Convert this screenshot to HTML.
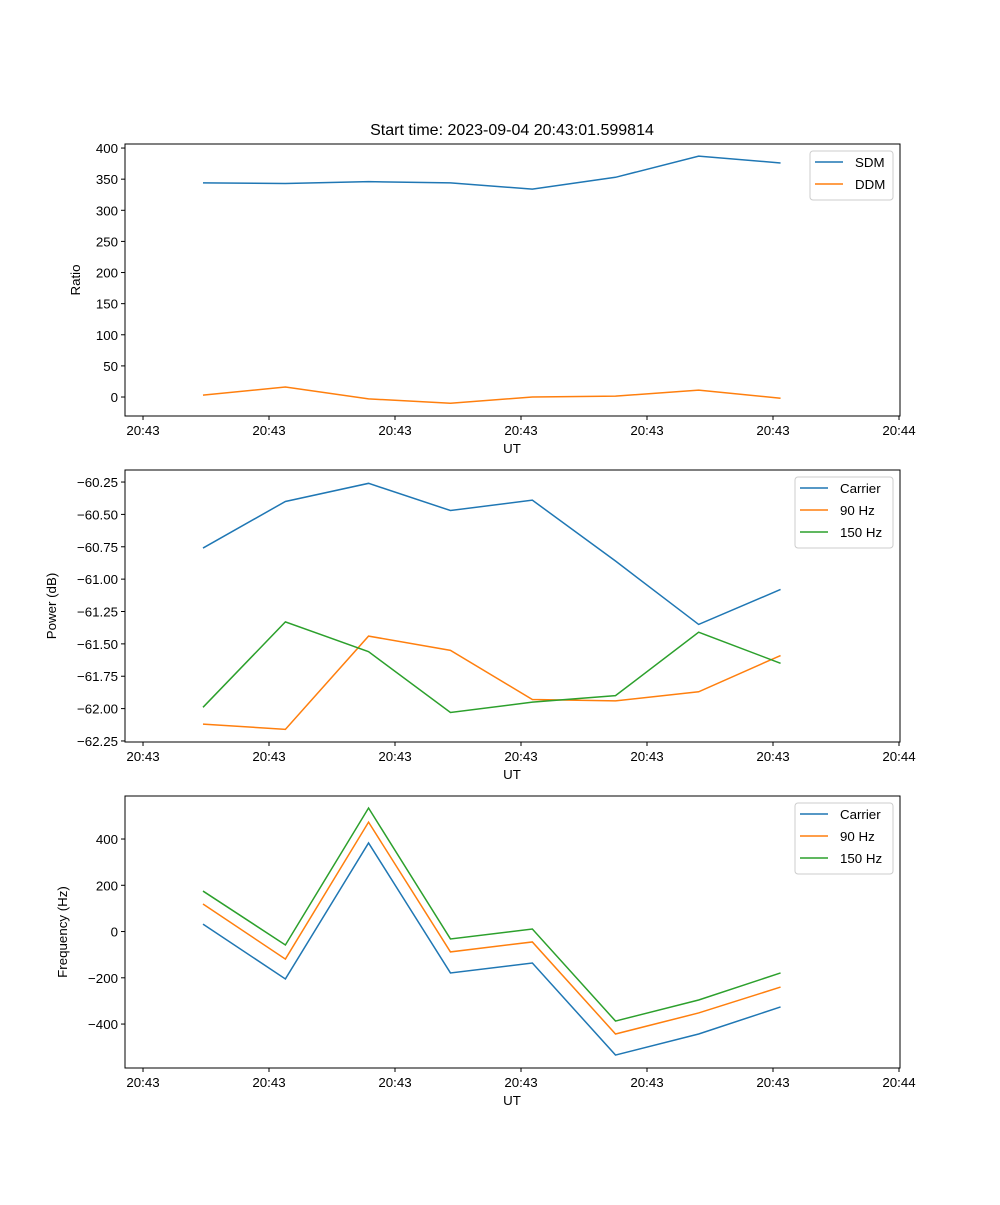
<!DOCTYPE html>
<html><head><meta charset="utf-8"><style>
body{margin:0;background:#fff}
svg{font-family:"Liberation Sans","DejaVu Sans",sans-serif;font-size:13.3px}
</style></head><body>
<svg id="fig" width="1000" height="1200" viewBox="0 0 1000 1200">
<text x="512" y="135" text-anchor="middle" font-size="16">Start time: 2023-09-04 20:43:01.599814</text>
</svg>
<script>
const times=[4.76,11.3,17.9,24.4,30.9,37.5,44.1,50.6];
const xTicks=[0,10,20,30,40,50,60];
const xTickLabels=["20:43","20:43","20:43","20:43","20:43","20:43","20:44"];
const sdm=[344,343,346,344,334,353,387,376];
const ddm=[3,16,-3,-10,0,1.5,11,-2];
const pCarrier=[-60.76,-60.40,-60.26,-60.47,-60.39,-60.86,-61.35,-61.08];
const p90=[-62.12,-62.16,-61.44,-61.55,-61.93,-61.94,-61.87,-61.59];
const p150=[-61.99,-61.33,-61.56,-62.03,-61.95,-61.90,-61.41,-61.65];
const fCarrier=[32,-205,383,-179,-136,-534,-443,-326];
const f90=[119,-119,473,-88,-45,-443,-352,-240];
const f150=[175,-58,534,-32,11,-387,-296,-179];
const ticks1=[0,50,100,150,200,250,300,350,400];
const ticks2=[-62.25,-62.0,-61.75,-61.5,-61.25,-61.0,-60.75,-60.5,-60.25];
const ticks3=[-400,-200,0,200,400];
const C=["#1f77b4","#ff7f0e","#2ca02c"];
const NS="http://www.w3.org/2000/svg";
const svg=document.getElementById('fig');
function mk(t,a,p){const e=document.createElementNS(NS,t);for(const k in a)e.setAttribute(k,a[k]);(p||svg).appendChild(e);return e;}
const L=125,R=900;
function xs(t){return L+(t+1.43)/(61.51)*(R-L);}
function panel(top,bot,ymin,ymax,yt,yfmt,ylabel,series,names,legend,key){
  const g=mk('g',{});
  
  
  const ys=v=>bot-(v-ymin)/(ymax-ymin)*(bot-top);
  series.forEach((s,i)=>{
    const pl=mk('polyline',{points:s.map((v,j)=>xs(times[j])+','+ys(v)).join(' '),fill:'none',stroke:C[i],'stroke-width':1.5},g);
    
    
  });
  const fr=mk('rect',{x:L,y:top,width:R-L,height:bot-top,fill:'none',stroke:'#000','stroke-width':1},g);
  
  
  xTicks.forEach((t,i)=>{const x=xs(t);mk('line',{x1:x,x2:x,y1:bot,y2:bot+4,stroke:'#000'},g);
    const tx=mk('text',{x:x,y:bot+19,'text-anchor':'middle'},g);tx.textContent=xTickLabels[i];
    
    });
  yt.forEach(v=>{const y=ys(v);mk('line',{x1:L-4,x2:L,y1:y,y2:y,stroke:'#000'},g);
    const tx=mk('text',{x:L-7,y:y+5,'text-anchor':'end'},g);tx.textContent=yfmt(v);
    
    });
  const xl=mk('text',{x:512,y:bot+37,'text-anchor':'middle'},g);xl.textContent='UT';
  
  
  const yl=mk('text',{x:0,y:0,'text-anchor':'middle',transform:`translate(${legend.yx},${(top+bot)/2}) rotate(-90)`},g);yl.textContent=ylabel;
  
  
  const lg=mk('g',{},g);
  
  
  mk('rect',{x:legend.x,y:top+7,width:893-legend.x,height:names.length*22+5,rx:3,fill:'#fff',stroke:'#ccc','fill-opacity':0.8},lg);
  names.forEach((n,i)=>{const y=top+18+i*22;
    mk('line',{x1:legend.x+5,x2:legend.x+33,y1:y,y2:y,stroke:C[i],'stroke-width':1.5},lg);
    const tx=mk('text',{x:legend.x+45,y:y+5},lg);tx.textContent=n;
    
    });
}
panel(144,416,-30.5,406.5,ticks1,v=>String(v),'Ratio',[sdm,ddm],['SDM','DDM'],{x:810,yx:80},'ratio');
panel(470,742,-62.258,-60.157,ticks2,v=>'\u2212'+Math.abs(v).toFixed(2),'Power (dB)',[pCarrier,p90,p150],['Carrier','90 Hz','150 Hz'],{x:795,yx:56},'power');
panel(796,1068,-590,586,ticks3,v=>v<0?'\u2212'+Math.abs(v):String(v),'Frequency (Hz)',[fCarrier,f90,f150],['Carrier','90 Hz','150 Hz'],{x:795,yx:67},'frequency');
</script>
</body></html>
